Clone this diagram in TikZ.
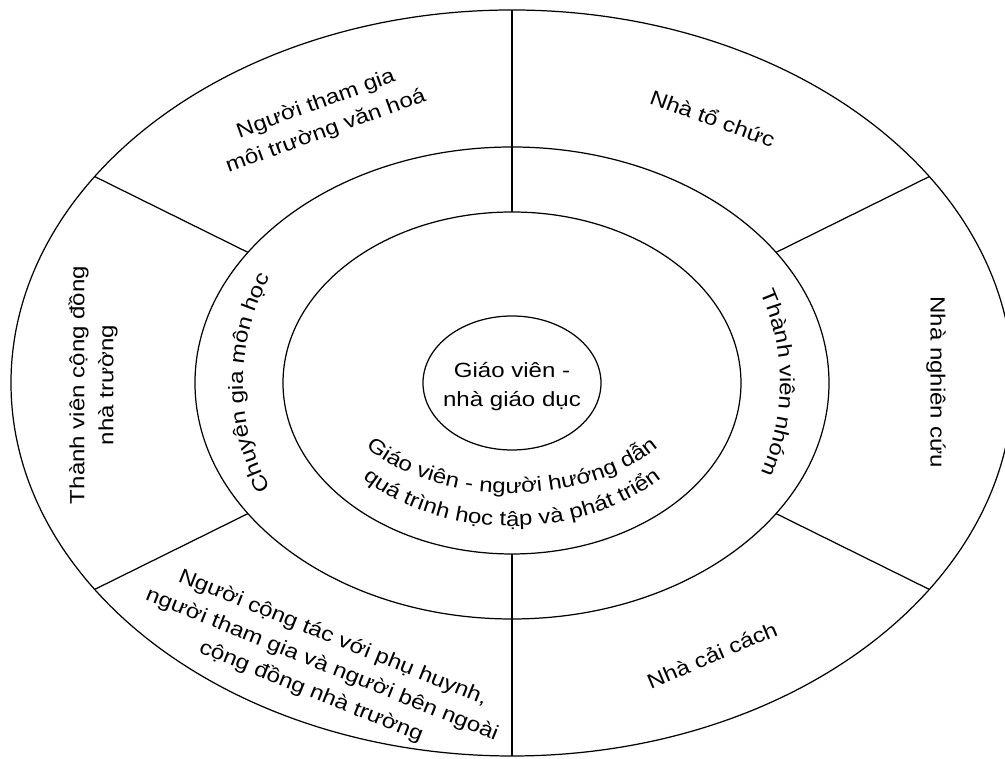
\documentclass[tikz,border=0pt]{standalone}
\usepackage{fontspec}
\setmainfont{Liberation Sans}[FakeStretch=1.17]
\usetikzlibrary{decorations.text}
\newcommand\lblfont{\fontsize{11.7}{16.5}\selectfont}

\begin{document}
\begin{tikzpicture}[x=0.02cm, y=0.02cm,
    ring/.style={line width=0.7pt},
    lbl/.style={font=\lblfont, align=center, inner sep=0pt},
    along/.style={decorate, decoration={text along path, text align=center,
        text={|\lblfont|#1}}}]

    \clip (-512,-376) rectangle (493,383);

    % ============================================================
    % RINGS
    % ============================================================
    \draw[ring] (0,0) ellipse [x radius=501, y radius=373];
    \draw[ring] (0,0) ellipse [x radius=317, y radius=236];
    \draw[ring] (0,0) ellipse [x radius=229, y radius=171];
    \draw[ring] (0,0) ellipse [x radius=89, y radius=67];

    % ============================================================
    % SECTOR LINES
    % ============================================================
    \coordinate (topin) at (90:229 and 171);
    \coordinate (topout) at (90:501 and 373);
    \coordinate (botin) at (270:229 and 171);
    \coordinate (botout) at (270:501 and 373);
    \draw[ring] (topin) -- (topout);
    \draw[ring] (botin) -- (botout);

    \foreach \a [count=\i] in {33.6, 146.4, 213.6, 326.4} {
        \coordinate (mid\i) at (\a:317 and 236);
        \coordinate (out\i) at (\a:501 and 373);
        \draw[ring] (mid\i) -- (out\i);
    }

    % ============================================================
    % CENTRE
    % ============================================================
    \node[lbl] (core) at (0,-4) {Giáo viên -\\nhà giáo dục};

    \path[along={Giáo viên - người hướng dẫn}]
        (190:180 and 110) arc[start angle=190, end angle=350,
        x radius=180, y radius=110];
    \path[along={quá trình học tập và phát triển}]
        (190:200 and 143) arc[start angle=190, end angle=350,
        x radius=200, y radius=143];

    % ============================================================
    % MIDDLE RING
    % ============================================================
    \path[along={Chuyên gia môn học}]
        (220:269 and 240) arc[start angle=220, end angle=140,
        x radius=269, y radius=240];
    \path[along={Thành viên nhóm}]
        (40:268 and 242) arc[start angle=40, end angle=-40,
        x radius=268, y radius=242];

    % ============================================================
    % OUTER RING
    % ============================================================
    \node[lbl, rotate=20] (culture) at (-191,265)
        {Người tham gia\\môi trường văn hoá};
    \node[lbl, rotate=-20] (organiser) at (201,265) {Nhà tổ chức};
    \node[lbl, rotate=-90] (researcher) at (424,1) {Nhà nghiên cứu};
    \node[lbl, rotate=23] (reformer) at (200,-272) {Nhà cải cách};
    \node[lbl, rotate=-22] (partner) at (-190,-282)
        {Người cộng tác với phụ huynh,\\người tham gia và người bên ngoài\\cộng đồng nhà trường};
    \node[lbl, rotate=90] (member) at (-419,-2)
        {Thành viên cộng đồng\\nhà trường};

\end{tikzpicture}
\end{document}
